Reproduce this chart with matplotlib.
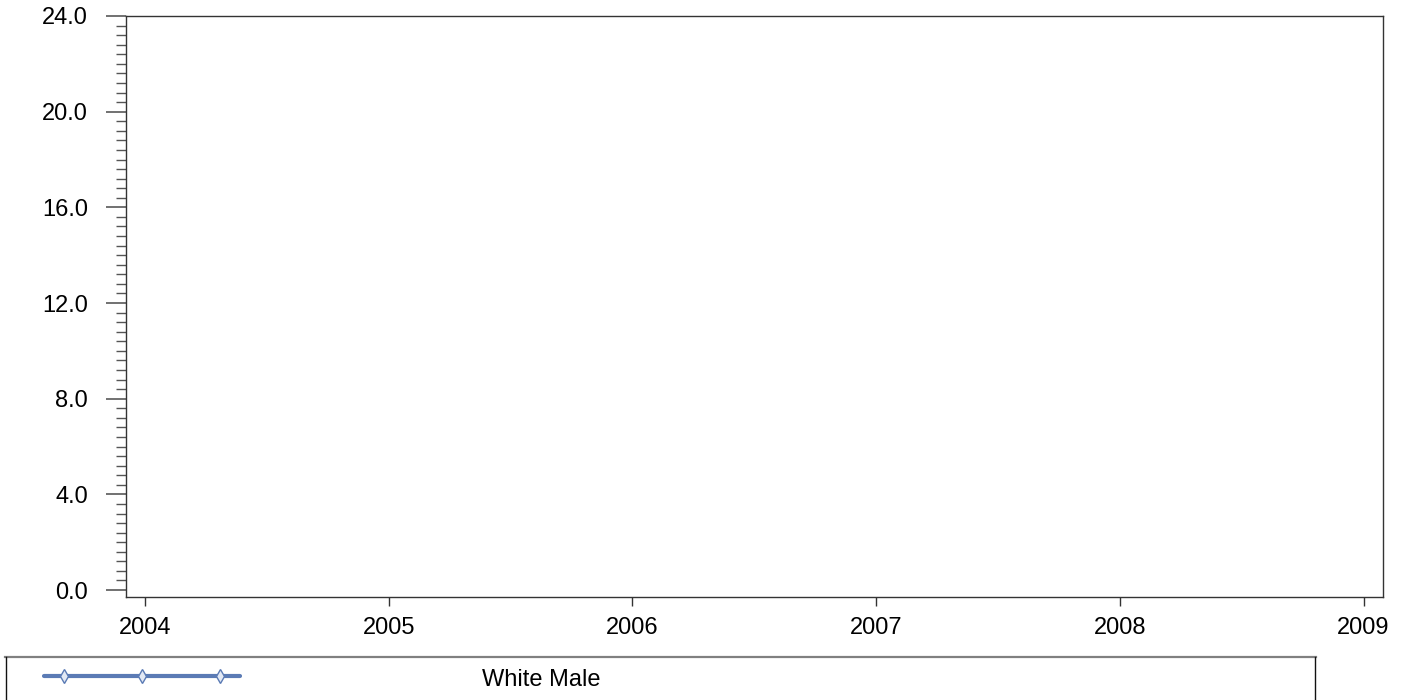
import numpy as np
import matplotlib
matplotlib.use("Agg")
import matplotlib.pyplot as plt
from matplotlib.lines import Line2D

# Chart data (the series has no visible values)
years = [2004, 2005, 2006, 2007, 2008, 2009]
white_male = [np.nan, np.nan, np.nan, np.nan, np.nan, np.nan]
series_name = "White Male"
y_ticks = [0.0, 4.0, 8.0, 12.0, 16.0, 20.0, 24.0]

line_color = "#5b7bb5"
W, H = 1408, 700

plt.rcParams['font.family'] = ['Liberation Sans', 'DejaVu Sans']

fig = plt.figure(figsize=(W / 100, H / 100), dpi=100)
# axes box in pixels: left 126, right 1383, top 16, bottom 597
ax = fig.add_axes([126 / W, 1 - 597 / H, (1383 - 126) / W, (597 - 16) / H])

ax.plot(years, white_male, color=line_color, linewidth=3, marker="d", markersize=5)

ax.set_xlim(2004 - 0.078, 2009 + 0.08)
ax.set_ylim(-0.29, 24.0)
ax.set_xticks(years)
ax.set_xticklabels([str(y) for y in years])
ax.set_yticks(y_ticks)
ax.set_yticklabels([f"{v:.1f}" for v in y_ticks])
ax.set_yticks(np.arange(0, 24.01, 0.4), minor=True)

for s in ax.spines.values():
    s.set_color("#333333")
    s.set_linewidth(1.0)

ax.tick_params(axis="y", which="major", length=14.4, width=1.3, color="#666666",
               labelsize=17, pad=13)
ax.tick_params(axis="y", which="minor", length=7.2, width=1.0, color="#555555")
ax.tick_params(axis="x", which="major", length=6.5, width=1.0, color="#333333",
               labelsize=17, pad=8)
ax.tick_params(axis="x", which="minor", length=0)

# legend box at the bottom (gray top edge, dark sides)
def fx(px):
    return px / W

def fy(py):
    return 1 - py / H

fig.lines.append(Line2D([fx(5), fx(1316)], [fy(657)] * 2, transform=fig.transFigure,
                        color="#808080", linewidth=1.6))
for xp in (6, 1315):
    fig.lines.append(Line2D([fx(xp)] * 2, [fy(657), fy(702)], transform=fig.transFigure,
                            color="#111111", linewidth=1.0))
fig.lines.append(Line2D([fx(44), fx(240)], [fy(676)] * 2,
                        transform=fig.transFigure, color=line_color, linewidth=3,
                        solid_capstyle="round"))
fig.lines.append(Line2D([fx(64), fx(142), fx(220)], [fy(676)] * 3,
                        transform=fig.transFigure, color=line_color, linestyle="none",
                        marker="d", markersize=7, markerfacecolor="#e3e9f4",
                        markeredgecolor=line_color, markeredgewidth=1.0))
fig.text(fx(482), fy(680), series_name, fontsize=17, va="center", ha="left")

fig.savefig("out.png", dpi=100)
